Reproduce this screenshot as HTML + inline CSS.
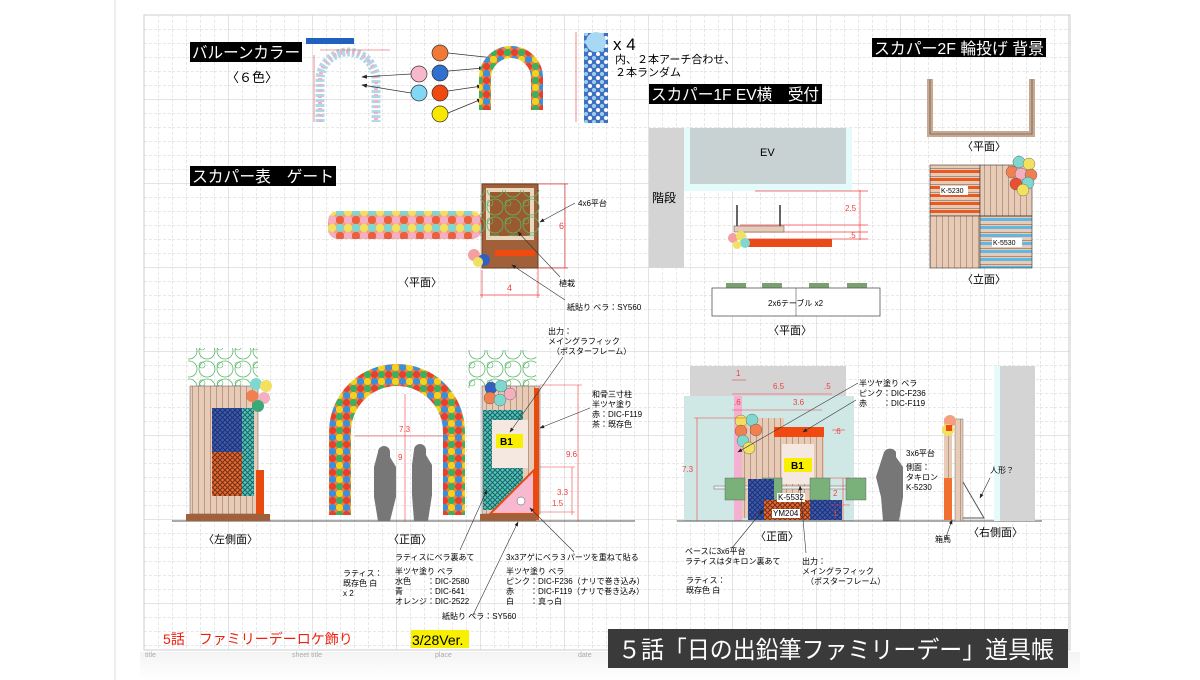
<!DOCTYPE html>
<html><head><meta charset="utf-8"><style>
html,body{margin:0;padding:0;background:#fff;}
svg{display:block;font-family:"Liberation Sans","Noto Sans CJK JP",sans-serif;}
</style></head><body>
<svg width="1200" height="680" viewBox="0 0 1200 680" xmlns="http://www.w3.org/2000/svg">
<defs>
<pattern id="g" x="144" y="15" width="14" height="14" patternUnits="userSpaceOnUse">
<path d="M0 0V14M0 0H14" stroke="#d0d0d0" stroke-width="1" stroke-dasharray="3 2" fill="none"/>
</pattern>
<pattern id="G" x="144" y="15" width="84" height="84" patternUnits="userSpaceOnUse">
<path d="M0 0V84M0 0H84" stroke="#c8c8c8" stroke-width="1" fill="none"/>
</pattern>
<pattern id="bal" width="14" height="14" patternUnits="userSpaceOnUse">
<rect width="14" height="14" fill="#f08040"/>
<circle cx="3.5" cy="3.5" r="3.6" fill="#f4d21c"/>
<circle cx="10.5" cy="3.5" r="3.6" fill="#3a8fd8"/>
<circle cx="3.5" cy="10.5" r="3.6" fill="#3cb060"/>
<circle cx="10.5" cy="10.5" r="3.6" fill="#e8402a"/>
</pattern>
<pattern id="bal2" width="16" height="16" patternUnits="userSpaceOnUse">
<rect width="16" height="16" fill="#f4a080"/>
<circle cx="4" cy="4" r="4.2" fill="#7fd8d0"/>
<circle cx="12" cy="4" r="4.2" fill="#f2e060"/>
<circle cx="4" cy="12" r="4.2" fill="#e86040"/>
<circle cx="12" cy="12" r="4.2" fill="#f4b0c0"/>
</pattern>
<pattern id="col" width="8" height="8" patternUnits="userSpaceOnUse">
<rect width="8" height="8" fill="#4070c0"/>
<circle cx="2" cy="2" r="2" fill="#9fd0f0"/><circle cx="6" cy="6" r="2" fill="#fff"/>
</pattern>
<pattern id="wood" width="6" height="6" patternUnits="userSpaceOnUse">
<rect width="6" height="6" fill="#e8cbb6"/><path d="M0 0V6" stroke="#8a6a55" stroke-width="1"/>
</pattern>
<pattern id="lat" width="5" height="5" patternUnits="userSpaceOnUse">
<rect width="5" height="5" fill="#3a5bb0"/><path d="M0 0L5 5M5 0L0 5" stroke="#203070" stroke-width="1"/>
</pattern>
<pattern id="latO" width="5" height="5" patternUnits="userSpaceOnUse">
<rect width="5" height="5" fill="#e86a30"/><path d="M0 0L5 5M5 0L0 5" stroke="#703018" stroke-width="1"/>
</pattern>
<pattern id="latC" width="5" height="5" patternUnits="userSpaceOnUse">
<rect width="5" height="5" fill="#50c8c0"/><path d="M0 0L5 5M5 0L0 5" stroke="#206060" stroke-width="1"/>
</pattern>
<pattern id="tree" width="18" height="18" patternUnits="userSpaceOnUse">
<circle cx="9" cy="9" r="8" fill="none" stroke="#5ab86a" stroke-width="0.8"/>
<circle cx="4" cy="5" r="3" fill="none" stroke="#5ab86a" stroke-width="0.6"/>
</pattern>
<pattern id="plk" width="10" height="8" patternUnits="userSpaceOnUse">
<rect width="10" height="8" fill="#e8cbb6"/><rect y="2" width="10" height="3" fill="#e85a20"/><path d="M0 0H10" stroke="#6a5040"/>
</pattern>
<pattern id="plkB" width="10" height="8" patternUnits="userSpaceOnUse">
<rect width="10" height="8" fill="#e8cbb6"/><rect y="2" width="10" height="3" fill="#60b8e0"/><path d="M0 0H10" stroke="#6a5040"/>
</pattern>
<linearGradient id="sh" x1="0" y1="0" x2="0" y2="1"><stop offset="0" stop-color="#f4f4f4"/><stop offset="1" stop-color="#fff"/></linearGradient>
<marker id="ar" markerWidth="8" markerHeight="8" refX="7" refY="4" orient="auto"><path d="M0 1L8 4L0 7z" fill="#222"/></marker>
</defs>

<line x1="115" y1="0" x2="115" y2="680" stroke="#eee" stroke-width="2"/>
<rect x="144" y="15" width="926" height="635" fill="url(#g)"/>
<rect x="144" y="15" width="926" height="635" fill="url(#G)" stroke="#ccc"/>
<rect x="140" y="652" width="940" height="28" fill="url(#sh)"/>

<!-- balloon color section -->
<rect x="190" y="42" width="112" height="20" fill="#000"/>
<text x="192" y="58" font-size="16" fill="#fff" textLength="108" lengthAdjust="spacingAndGlyphs">バルーンカラー</text>
<text x="226" y="82" font-size="13">〈６色〉</text>
<rect x="306" y="38" width="48" height="6" fill="#2060c0"/>
<path d="M320 122V80a28 28 0 0 1 56 0V122" fill="none" stroke="#b0d8e8" stroke-width="9" stroke-dasharray="3 2"/>
<path d="M320 122V80a28 28 0 0 1 56 0V122" fill="none" stroke="#f0b0c8" stroke-width="4" stroke-dasharray="2 4"/>
<line x1="314" y1="55" x2="314" y2="122" stroke="#e04040" stroke-width="0.6"/>
<line x1="320" y1="50" x2="390" y2="50" stroke="#e04040" stroke-width="0.6"/>
<g stroke="#333" stroke-width="0.7">
<circle cx="419" cy="74" r="8" fill="#f8b8cc"/><circle cx="419" cy="93" r="8" fill="#80d8f4"/>
<circle cx="440" cy="53" r="8" fill="#f07838"/><circle cx="440" cy="73" r="8" fill="#3070d0"/>
<circle cx="440" cy="93" r="8" fill="#f04a10"/><circle cx="440" cy="114" r="8" fill="#f8e800"/>
<line x1="411" y1="74" x2="362" y2="77" marker-end="url(#ar)"/><line x1="411" y1="93" x2="362" y2="85" marker-end="url(#ar)"/>
<line x1="448" y1="53" x2="494" y2="58" marker-end="url(#ar)"/><line x1="448" y1="71" x2="484" y2="68" marker-end="url(#ar)"/>
<line x1="448" y1="91" x2="482" y2="86" marker-end="url(#ar)"/><line x1="448" y1="113" x2="482" y2="99" marker-end="url(#ar)"/>
</g>
<path d="M485 110V78a26 26 0 0 1 52 0V110" fill="none" stroke="url(#bal)" stroke-width="12"/>
<rect x="584" y="33" width="24" height="90" fill="url(#col)"/>
<circle cx="596" cy="42" r="10" fill="#a8d8f4"/>
<line x1="576" y1="32" x2="576" y2="122" stroke="#e04040" stroke-width="0.6"/>
<text x="613" y="50" font-size="17">x 4</text>
<text x="615" y="63" font-size="11">内、２本アーチ合わせ、</text>
<text x="615" y="76" font-size="11">２本ランダム</text>

<!-- gate plan -->
<rect x="190" y="166" width="146" height="20" fill="#000"/>
<text x="192" y="182" font-size="16" fill="#fff" textLength="142" lengthAdjust="spacingAndGlyphs">スカパー表　ゲート</text>
<rect x="328" y="211" width="154" height="28" rx="10" fill="url(#bal2)"/>
<rect x="482" y="184" width="56" height="84" fill="#a0603a" stroke="#6a4020"/>
<rect x="486" y="188" width="48" height="52" fill="#e8d8c0"/>
<rect x="490" y="192" width="40" height="44" fill="#9a5a30"/>
<rect x="480" y="190" width="60" height="46" fill="url(#tree)"/>
<rect x="495" y="250" width="40" height="6" fill="#f04a10"/>
<circle cx="474" cy="255" r="6" fill="#f4a0a0"/><circle cx="484" cy="260" r="6" fill="#3060c0"/><circle cx="478" cy="262" r="5" fill="#f2e060"/>
<g stroke="#f04040" stroke-width="0.7" fill="none">
<line x1="538" y1="184" x2="568" y2="184"/><line x1="538" y1="268" x2="568" y2="268"/><line x1="565" y1="184" x2="565" y2="268"/>
<line x1="482" y1="270" x2="482" y2="298"/><line x1="538" y1="268" x2="538" y2="298"/><line x1="480" y1="295" x2="540" y2="295"/>
</g>
<text x="559" y="229" font-size="9" fill="#f04040">6</text>
<text x="507" y="291" font-size="9" fill="#f04040">4</text>
<g stroke="#333" stroke-width="0.6"><line x1="575" y1="203" x2="540" y2="222" marker-end="url(#ar)"/><line x1="560" y1="277" x2="518" y2="232" marker-end="url(#ar)"/><line x1="565" y1="300" x2="512" y2="265" marker-end="url(#ar)"/></g>
<text x="578" y="206" font-size="8">4x6平台</text>
<text x="559" y="286" font-size="8">植栽</text>
<text x="567" y="310" font-size="8">紙貼り ベラ：SY560</text>
<text x="398" y="286" font-size="11">〈平面〉</text>

<!-- 1F EV -->
<rect x="649" y="84" width="173" height="20" fill="#000"/>
<text x="651" y="100" font-size="16" fill="#fff" textLength="168" lengthAdjust="spacingAndGlyphs">スカパー1F EV横　受付</text>
<rect x="649" y="128" width="35" height="140" fill="#d4d4d4"/>
<text x="652" y="202" font-size="12">階段</text>
<rect x="684" y="128" width="168" height="63" fill="#e4fbfc"/>
<rect x="690" y="128" width="156" height="56" fill="#c8d2d2"/>
<text x="760" y="156" font-size="11">EV</text>
<g stroke="#f04040" stroke-width="0.7"><line x1="755" y1="191" x2="868" y2="191"/><line x1="860" y1="190" x2="860" y2="240"/><line x1="740" y1="225" x2="868" y2="225"/><line x1="740" y1="232" x2="868" y2="232"/><line x1="740" y1="239" x2="868" y2="239"/></g>
<text x="845" y="211" font-size="8" fill="#f04040">2.5</text>
<text x="849" y="238" font-size="8" fill="#f04040">.5</text>
<line x1="737" y1="205" x2="737" y2="226" stroke="#333" stroke-width="1.5"/><line x1="780" y1="205" x2="780" y2="226" stroke="#333" stroke-width="1.5"/>
<rect x="734" y="226" width="50" height="6" fill="#e8cbb6" stroke="#555" stroke-width="0.5"/>
<rect x="745" y="239" width="87" height="8" fill="#e84a18"/>
<circle cx="733" cy="238" r="5" fill="#f4a0a0"/><circle cx="741" cy="236" r="5" fill="#f2e060"/><circle cx="745" cy="243" r="5" fill="#7fd8d0"/><circle cx="737" cy="245" r="4" fill="#f2e060"/>
<g fill="#7aa070"><rect x="726" y="283" width="20" height="6"/><rect x="762" y="283" width="20" height="6"/><rect x="809" y="283" width="20" height="6"/><rect x="847" y="283" width="20" height="6"/></g>
<rect x="712" y="288" width="168" height="28" fill="#fff" stroke="#555" stroke-width="0.8"/>
<line x1="796" y1="288" x2="796" y2="316" stroke="#555" stroke-width="0.6"/>
<text x="768" y="306" font-size="8">2x6テーブル x2</text>
<text x="768" y="334" font-size="11">〈平面〉</text>

<!-- 2F -->
<rect x="872" y="38" width="174" height="19" fill="#000"/>
<text x="874" y="54" font-size="16" fill="#fff" textLength="170" lengthAdjust="spacingAndGlyphs">スカパー2F 輪投げ 背景</text>
<path d="M930 79V134H1032V79" fill="none" stroke="#c8a890" stroke-width="6"/>
<path d="M930 79V134H1032V79" fill="none" stroke="#444" stroke-width="0.6"/>
<text x="962" y="150" font-size="11">〈平面〉</text>
<rect x="930" y="165" width="50" height="51" fill="url(#plk)" stroke="#333" stroke-width="0.6"/>
<rect x="980" y="165" width="52" height="51" fill="url(#wood)" stroke="#333" stroke-width="0.6"/>
<rect x="930" y="216" width="50" height="52" fill="url(#wood)" stroke="#333" stroke-width="0.6"/>
<rect x="980" y="216" width="52" height="52" fill="url(#plkB)" stroke="#333" stroke-width="0.6"/>
<rect x="940" y="186" width="28" height="9" fill="#fff"/><text x="941" y="193" font-size="7">K-5230</text>
<rect x="992" y="238" width="30" height="9" fill="#fff"/><text x="993" y="245" font-size="7">K-5530</text>
<g stroke="#555" stroke-width="0.4"><circle cx="1019" cy="162" r="6" fill="#7fd8d0"/><circle cx="1029" cy="164" r="6" fill="#f2e060"/><circle cx="1012" cy="172" r="6" fill="#f08050"/><circle cx="1021" cy="174" r="6" fill="#f4b0c0"/><circle cx="1031" cy="175" r="6" fill="#f08050"/><circle cx="1016" cy="184" r="6" fill="#e85030"/><circle cx="1028" cy="183" r="6" fill="#7fd8d0"/><circle cx="1023" cy="190" r="6" fill="#f2e060"/></g>
<text x="962" y="283" font-size="11">〈立面〉</text>

<!-- bottom left side elevation -->
<line x1="172" y1="521" x2="635" y2="521" stroke="#555"/>
<rect x="188" y="348" width="70" height="40" fill="url(#tree)"/>
<rect x="190" y="386" width="68" height="128" fill="url(#wood)" stroke="#555" stroke-width="0.5"/>
<rect x="212" y="408" width="30" height="44" fill="url(#lat)"/>
<rect x="212" y="452" width="30" height="44" fill="url(#latO)"/>
<rect x="242" y="408" width="12" height="88" fill="url(#latC)"/>
<rect x="256" y="470" width="8" height="44" fill="#e84a10"/>
<rect x="186" y="514" width="84" height="7" fill="#a0603a"/>
<circle cx="256" cy="384" r="6" fill="#7fd8d0"/><circle cx="266" cy="386" r="6" fill="#f2e060"/><circle cx="252" cy="396" r="6" fill="#f08050"/><circle cx="264" cy="398" r="6" fill="#f4b0c0"/><circle cx="258" cy="406" r="6" fill="#3aa878"/>
<text x="203" y="543" font-size="11">〈左側面〉</text>

<!-- arch front -->
<path d="M340 515V432a57 57 0 0 1 114 0V515" fill="none" stroke="url(#bal)" stroke-width="22"/>
<g fill="#777"><path d="M378 452a6 6 0 0 1 12 0v5l6 10v30l-6 24h-12l-4-24v-30z"/><path d="M414 450a6 6 0 0 1 12 0v5l6 10v30l-4 26h-14l-2-26v-30z"/></g>
<g stroke="#f04040" stroke-width="0.6"><line x1="405" y1="394" x2="405" y2="522"/><line x1="355" y1="436" x2="458" y2="436"/></g>
<text x="399" y="432" font-size="8" fill="#f04040">7.3</text><text x="398" y="460" font-size="8" fill="#f04040">9</text>
<text x="388" y="543" font-size="11">〈正面〉</text>

<!-- right gate -->
<rect x="468" y="350" width="68" height="38" fill="url(#tree)"/>
<rect x="482" y="386" width="58" height="128" fill="url(#wood)" stroke="#555" stroke-width="0.5"/>
<rect x="483" y="410" width="40" height="100" fill="url(#latC)"/>
<rect x="492" y="420" width="36" height="48" fill="#f4e8e0"/>
<rect x="496" y="434" width="27" height="14" fill="#f8f000"/><text x="500" y="445" font-size="10" font-weight="bold">B1</text>
<path d="M490 514L534 470V514z" fill="#f8b8d0" stroke="#e84a10" stroke-width="2"/>
<circle cx="521" cy="501" r="4" fill="#fff" stroke="#555" stroke-width="0.5"/>
<rect x="534" y="388" width="5" height="132" fill="#e84a10"/>
<rect x="480" y="514" width="56" height="7" fill="#a0603a"/>
<g stroke="#555" stroke-width="0.4"><circle cx="491" cy="388" r="6" fill="#3060c0"/><circle cx="501" cy="386" r="6" fill="#7fd8d0"/><circle cx="490" cy="398" r="6" fill="#f08050"/><circle cx="500" cy="400" r="6" fill="#7fd8d0"/><circle cx="510" cy="394" r="6" fill="#f4b0c0"/></g>
<g stroke="#f04040" stroke-width="0.6"><line x1="540" y1="385" x2="582" y2="385"/><line x1="578" y1="385" x2="578" y2="522"/><line x1="540" y1="467" x2="575" y2="467"/><line x1="572" y1="467" x2="572" y2="515"/><line x1="540" y1="512" x2="575" y2="512"/></g>
<text x="566" y="457" font-size="8" fill="#f04040">9.6</text><text x="557" y="495" font-size="8" fill="#f04040">3.3</text><text x="552" y="506" font-size="8" fill="#f04040">1.5</text>
<text x="548" y="334" font-size="8">出力：</text>
<text x="548" y="344" font-size="8">メイングラフィック</text>
<text x="552" y="354" font-size="8">（ポスターフレーム）</text>
<text x="592" y="397" font-size="8">和骨三寸柱</text>
<text x="592" y="407" font-size="8">半ツヤ塗り</text>
<text x="592" y="417" font-size="8">赤：DIC-F119</text>
<text x="592" y="427" font-size="8">茶：既存色</text>
<g stroke="#333" stroke-width="0.6"><line x1="563" y1="357" x2="510" y2="432" marker-end="url(#ar)"/><line x1="590" y1="408" x2="540" y2="428" marker-end="url(#ar)"/><line x1="460" y1="550" x2="487" y2="490" marker-end="url(#ar)"/><line x1="473" y1="615" x2="518" y2="522" marker-end="url(#ar)"/><line x1="574" y1="552" x2="530" y2="508" marker-end="url(#ar)"/></g>
<text x="395" y="560" font-size="8">ラティスにベラ裏あて</text>
<text x="506" y="560" font-size="8">3x3アゲにベラ３パーツを重ねて貼る</text>
<text x="343" y="576" font-size="8">ラティス：</text><text x="343" y="586" font-size="8">既存色 白</text><text x="343" y="596" font-size="8">x 2</text>
<text x="395" y="574" font-size="8">半ツヤ塗り ベラ</text>
<text x="395" y="584" font-size="8">水色　　：DIC-2580</text>
<text x="395" y="594" font-size="8">青　　　：DIC-641</text>
<text x="395" y="604" font-size="8">オレンジ：DIC-2522</text>
<text x="506" y="574" font-size="8">半ツヤ塗り ベラ</text>
<text x="506" y="584" font-size="8">ピンク：DIC-F236（ナリで巻き込み）</text>
<text x="506" y="594" font-size="8">赤　　：DIC-F119（ナリで巻き込み）</text>
<text x="506" y="604" font-size="8">白　　：真っ白</text>
<text x="442" y="619" font-size="8">紙貼り ベラ：SY560</text>

<!-- right front elevation -->
<rect x="690" y="366" width="156" height="30" fill="#d4d4d4"/>
<rect x="684" y="396" width="170" height="125" fill="#cfe8e6"/>
<rect x="734" y="396" width="8" height="125" fill="#f4b0d0"/>
<rect x="742" y="418" width="42" height="100" fill="url(#wood)"/>
<rect x="774" y="427" width="50" height="10" fill="#f04a10"/>
<rect x="774" y="437" width="50" height="78" fill="url(#wood)"/>
<rect x="782" y="444" width="32" height="40" fill="#f4e8e0"/>
<rect x="784" y="458" width="28" height="14" fill="#f8f000"/><text x="791" y="469" font-size="10" font-weight="bold">B1</text>
<rect x="714" y="486" width="148" height="3" fill="#eee" stroke="#666" stroke-width="0.5"/>
<g fill="#7ab07a" stroke="#555" stroke-width="0.4"><rect x="725" y="478" width="20" height="22"/><rect x="762" y="478" width="20" height="22"/><rect x="810" y="478" width="20" height="22"/><rect x="846" y="478" width="20" height="22"/></g>
<rect x="748" y="479" width="26" height="41" fill="url(#lat)"/><rect x="810" y="500" width="32" height="20" fill="url(#lat)"/>
<rect x="764" y="500" width="46" height="20" fill="url(#latO)"/>
<rect x="777" y="493" width="28" height="9" fill="#fff"/><text x="778" y="500" font-size="8">K-5532</text>
<rect x="772" y="509" width="28" height="9" fill="#fff"/><text x="773" y="516" font-size="8">YM204</text>
<g stroke="#555" stroke-width="0.4"><circle cx="741" cy="421" r="6" fill="#f2e060"/><circle cx="752" cy="420" r="6" fill="#7fd8d0"/><circle cx="741" cy="431" r="6" fill="#f08050"/><circle cx="756" cy="430" r="6" fill="#f08050"/><circle cx="743" cy="441" r="6" fill="#7fd8d0"/><circle cx="749" cy="448" r="6" fill="#f2e060"/></g>
<path d="M884 452a7 7 0 0 1 12 0v5l7 10v30l-4 24h-16l-2-24-5-20z" fill="#777"/>
<line x1="677" y1="521" x2="1042" y2="521" stroke="#555"/>
<g stroke="#f04040" stroke-width="0.6"><line x1="697" y1="418" x2="697" y2="521"/><line x1="694" y1="418" x2="745" y2="418"/><line x1="732" y1="380" x2="746" y2="380"/><line x1="732" y1="394" x2="832" y2="394"/><line x1="732" y1="410" x2="822" y2="410"/><line x1="832" y1="430" x2="845" y2="430"/><line x1="830" y1="478" x2="850" y2="478"/><line x1="830" y1="505" x2="850" y2="505"/><line x1="843" y1="478" x2="843" y2="521"/></g>
<text x="736" y="376" font-size="8" fill="#f04040">1</text><text x="773" y="389" font-size="8" fill="#f04040">6.5</text><text x="824" y="389" font-size="8" fill="#f04040">.5</text>
<text x="734" y="405" font-size="8" fill="#f04040">.6</text><text x="793" y="405" font-size="8" fill="#f04040">3.6</text><text x="834" y="434" font-size="8" fill="#f04040">.6</text>
<text x="682" y="472" font-size="8" fill="#f04040">7.3</text><text x="833" y="496" font-size="8" fill="#f04040">2</text><text x="833" y="516" font-size="8" fill="#f04040">1</text>
<text x="859" y="386" font-size="8">半ツヤ塗り ベラ</text>
<text x="859" y="396" font-size="8">ピンク：DIC-F236</text>
<text x="859" y="406" font-size="8">赤　　：DIC-F119</text>
<g stroke="#333" stroke-width="0.6"><line x1="858" y1="383" x2="738" y2="452" marker-end="url(#ar)"/><line x1="856" y1="400" x2="803" y2="432" marker-end="url(#ar)"/><line x1="732" y1="548" x2="763" y2="510" marker-end="url(#ar)"/><line x1="806" y1="553" x2="800" y2="486" marker-end="url(#ar)"/><line x1="945" y1="540" x2="952" y2="520" marker-end="url(#ar)"/><line x1="990" y1="478" x2="980" y2="498" marker-end="url(#ar)"/></g>
<text x="755" y="540" font-size="11">〈正面〉</text>
<text x="685" y="554" font-size="8">ベースに3x6平台</text>
<text x="685" y="564" font-size="8">ラティスはタキロン裏あて</text>
<text x="686" y="583" font-size="8">ラティス：</text><text x="686" y="593" font-size="8">既存色 白</text>
<text x="802" y="564" font-size="8">出力：</text><text x="802" y="574" font-size="8">メイングラフィック</text><text x="806" y="584" font-size="8">（ポスターフレーム）</text>
<rect x="1000" y="366" width="35" height="155" fill="#d4d4d4"/><rect x="994" y="366" width="6" height="155" fill="#e4fbfc"/>
<rect x="944" y="418" width="8" height="100" fill="url(#wood)"/>
<rect x="944" y="478" width="8" height="42" fill="#f07030"/>
<rect x="955" y="419" width="8" height="102" fill="url(#wood)" stroke="#555" stroke-width="0.4"/>
<path d="M963 482L984 518H963" fill="none" stroke="#555"/>
<circle cx="950" cy="421" r="6" fill="#f4a080"/><circle cx="948" cy="430" r="6" fill="#f2e060"/><rect x="946" y="425" width="6" height="6" fill="#f04a10"/>
<text x="906" y="456" font-size="8">3x6平台</text>
<text x="906" y="470" font-size="8">側面：</text><text x="906" y="480" font-size="8">タキロン</text><text x="906" y="490" font-size="8">K-5230</text>
<text x="990" y="473" font-size="8">人形？</text>
<text x="935" y="542" font-size="8">箱馬</text>
<text x="968" y="536" font-size="11">〈右側面〉</text>

<!-- footer -->
<text x="163" y="644" font-size="14" fill="#f02010">5話　ファミリーデーロケ飾り</text>
<rect x="411" y="630" width="58" height="18" fill="#f8f000"/>
<text x="412" y="645" font-size="14">3/28Ver.</text>
<g font-size="7" fill="#aaa"><text x="145" y="657">title</text><text x="292" y="657">sheet title</text><text x="435" y="657">place</text><text x="578" y="657">date</text></g>
<rect x="608" y="629" width="460" height="39" fill="#3a3a3a"/>
<text x="618" y="658" font-size="24" fill="#fff" textLength="436" lengthAdjust="spacingAndGlyphs">５話「日の出鉛筆ファミリーデー」道具帳</text>
</svg>
</body></html>
